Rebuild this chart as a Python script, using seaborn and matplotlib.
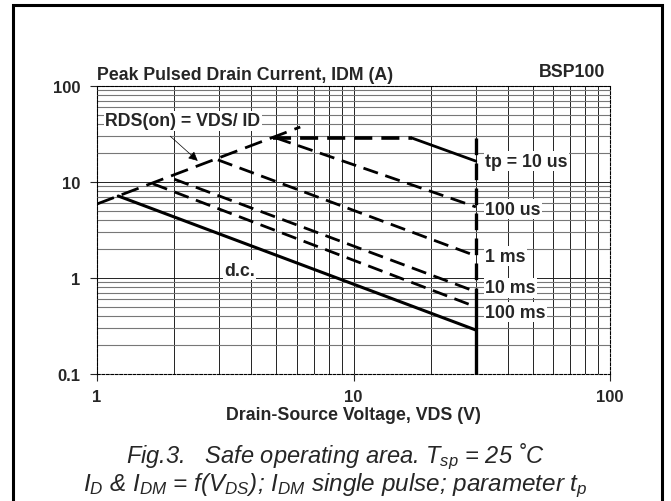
import matplotlib
matplotlib.use("Agg")
import matplotlib.pyplot as plt
from matplotlib.patches import Rectangle
import seaborn as sns
import pandas as pd

sns.set_style("white")
plt.rcParams["font.family"] = ["Liberation Sans", "DejaVu Sans"]
plt.rcParams["mathtext.fontset"] = "custom"
plt.rcParams["mathtext.it"] = "Liberation Sans:italic"
plt.rcParams["mathtext.rm"] = "Liberation Sans:italic"

# Safe operating area curves, VDS in volts, ID in amperes
rds_v = [1.0, 6.2]
rds_i = [5.9, 37.4]
plateau_v = [4.85, 16.9]
plateau_i = [28.7, 28.7]
tp10us_v = [16.9, 30.0]
tp10us_i = [28.7, 16.5]
tp100us_v = [5.0, 30.0]
tp100us_i = [28.7, 5.5]
tp1ms_v = [2.96, 30.0]
tp1ms_i = [17.0, 1.70]
tp10ms_v = [2.0, 30.0]
tp10ms_i = [10.7, 0.72]
tp100ms_v = [1.65, 30.0]
tp100ms_i = [9.6, 0.50]
dc_v = [1.21, 30.0]
dc_i = [7.15, 0.287]
vmax_dash_v = [30.0, 30.0]
vmax_dash_i = [28.7, 0.72]
vmax_solid_v = [30.0, 30.0]
vmax_solid_i = [0.72, 0.1]

curve_labels = ["tp = 10 us", "100 us", "1 ms", "10 ms", "100 ms"]
label_i = [16.5, 5.2, 1.69, 0.79, 0.44]

x_ticks = [1, 10, 100]
x_tick_labels = ["1", "10", "100"]
y_ticks = [0.1, 1, 10, 100]
y_tick_labels = ["0.1", "1", "10", "100"]

W, H = 671, 502
fig = plt.figure(figsize=(W / 100, H / 100), dpi=100)
ax = fig.add_axes([97 / W, 1 - 375 / H, (610 - 97) / W, (375 - 87) / H])
ax.set_xscale("log")
ax.set_yscale("log")


def draw(v, i, lw, ls):
    df = pd.DataFrame({"VDS": v, "ID": i})
    sns.lineplot(data=df, x="VDS", y="ID", ax=ax, color="black", lw=lw,
                 linestyle=ls, estimator=None, errorbar=None, sort=False,
                 zorder=4)


dash = (0, (5.5, 2.8))
draw(rds_v, rds_i, 2.0, (0, (6.5, 3.0)))
draw(plateau_v, plateau_i, 2.6, (0, (5.0, 2.5)))
draw(tp10us_v, tp10us_i, 2.0, "-")
draw(tp100us_v, tp100us_i, 2.0, dash)
draw(tp1ms_v, tp1ms_i, 2.0, dash)
draw(tp10ms_v, tp10ms_i, 2.0, dash)
draw(tp100ms_v, tp100ms_i, 2.0, dash)
draw(dc_v, dc_i, 2.2, "-")
draw(vmax_dash_v, vmax_dash_i, 2.4, (0, (5.0, 2.5)))
draw(vmax_solid_v, vmax_solid_i, 2.4, "-")

ax.set_xlim(1, 100)
ax.set_ylim(0.1, 100)
ax.set_xlabel("")
ax.set_ylabel("")

# log grid: black verticals, grey horizontals
ax.xaxis.grid(True, which="both", color="#222222", lw=0.7)
ax.yaxis.grid(True, which="major", color="#222222", lw=0.7)
ax.yaxis.grid(True, which="minor", color="#777777", lw=0.8)
ax.set_axisbelow(True)

for s in ax.spines.values():
    s.set_linestyle((0, (2.5, 1.5)))
    s.set_linewidth(0.8)
    s.set_color("black")

ax.set_xticks(x_ticks)
ax.set_xticklabels(x_tick_labels)
ax.set_yticks(y_ticks)
ax.set_yticklabels(y_tick_labels)
ax.tick_params(which="major", direction="out", length=5, width=0.8,
               pad=7, labelsize=12, bottom=True, left=True)
ax.tick_params(axis="x", pad=6)
ax.tick_params(which="minor", length=0)
for t in ax.get_xticklabels() + ax.get_yticklabels():
    t.set_fontweight("bold")

lab_fs = 12.8
box = dict(facecolor="white", edgecolor="none", pad=1.0)
for txt, yi in zip(curve_labels, label_i):
    ax.text(32.6, yi, txt, ha="left", va="center", fontsize=lab_fs,
            fontweight="bold", bbox=box, zorder=5)
ax.text(3.6, 1.21, "d.c.", ha="center", va="center", fontsize=lab_fs,
        fontweight="bold", bbox=box, zorder=5)
ax.text(1.075, 43.2, "RDS(on) = VDS/ ID", ha="left", va="center",
        fontsize=lab_fs, fontweight="bold", bbox=box, zorder=5)
ax.annotate("", xy=(2.47, 16.6), xytext=(1.93, 30.0),
            arrowprops=dict(arrowstyle="-|>", color="black", lw=0.5,
                            mutation_scale=14, shrinkA=0, shrinkB=0),
            zorder=5)

ax.text(0.0, 1.012, "Peak Pulsed Drain Current, IDM (A)", transform=ax.transAxes,
        ha="left", va="bottom", fontsize=lab_fs, fontweight="bold")
ax.text(0.99, 1.02, "BSP100", transform=ax.transAxes,
        ha="right", va="bottom", fontsize=lab_fs, fontweight="bold")
fig.text(353.5 / W, 1 - 416 / H, "Drain-Source Voltage, VDS (V)",
         ha="center", va="center", fontsize=lab_fs, fontweight="bold")

fig.text(0.5, 1 - 457 / H, "Fig.3.   Safe operating area. $T_{sp}$ = 25 ˚C",
         ha="center", va="center", fontsize=17, style="italic")
fig.text(0.5, 1 - 486 / H,
         "$I_D$ & $I_{DM}$ = f($V_{DS}$); $I_{DM}$ single pulse; parameter $t_p$",
         ha="center", va="center", fontsize=17.5, style="italic")

fig.patches.append(Rectangle((13 / W, -0.02), (662 - 13) / W, 1.02 - 6 / H,
                             transform=fig.transFigure, fill=False,
                             edgecolor="black", lw=2.2))

fig.savefig("out.png", dpi=100, facecolor="white")
